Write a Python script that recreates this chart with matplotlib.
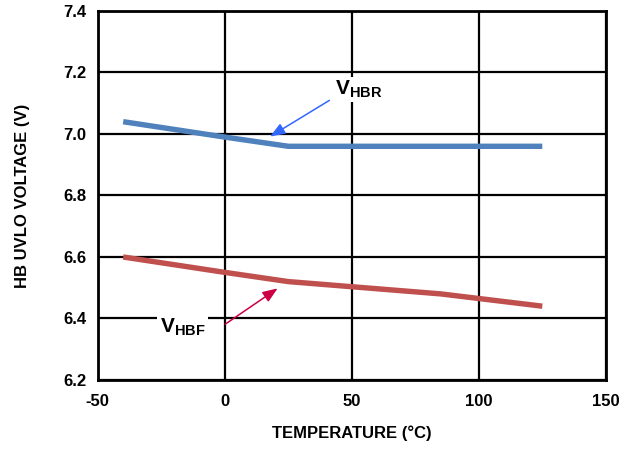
import numpy as np
import matplotlib.pyplot as plt

plt.rcParams['font.family'] = ['Liberation Sans', 'DejaVu Sans']
plt.rcParams['font.weight'] = 'bold'
plt.rcParams['mathtext.fontset'] = 'custom'
plt.rcParams['mathtext.rm'] = 'Liberation Sans:bold'
plt.rcParams['mathtext.bf'] = 'Liberation Sans:bold'
plt.rcParams['mathtext.it'] = 'Liberation Sans:bold'

# data
temp_hbr = [-40, 0, 25, 125]
v_hbr = [7.04, 6.99, 6.96, 6.96]
temp_hbf = [-40, 0, 25, 85, 125]
v_hbf = [6.60, 6.55, 6.52, 6.48, 6.44]
xticks = [-50, 0, 50, 100, 150]
yticks = [6.2, 6.4, 6.6, 6.8, 7.0, 7.2, 7.4]

fig = plt.figure(figsize=(6.35, 4.49), dpi=100)
ax = fig.add_axes([0.154, 0.1537, 0.80, 0.8218])

ax.plot(temp_hbr, v_hbr, color='#4F81BD', lw=3.9, solid_capstyle='butt', zorder=3)
ax.plot(temp_hbf, v_hbf, color='#C0504D', lw=3.9, solid_capstyle='butt', zorder=3)

ax.set_xlim(-50, 150)
ax.set_ylim(6.2, 7.4)
ax.set_xticks(xticks)
ax.set_yticks(yticks)
ax.set_xticklabels(['%d' % t for t in xticks])
ax.set_yticklabels(['%.1f' % t for t in yticks])
ax.grid(True, color='black', lw=1.6)
ax.set_axisbelow(True)
for s in ax.spines.values():
    s.set_linewidth(2)
ax.tick_params(length=0, labelsize=12)
ax.tick_params(axis='x', pad=10)
ax.tick_params(axis='y', pad=8)

ax.set_xlabel('TEMPERATURE (°C)', fontsize=12, fontweight='bold', labelpad=12)
ax.set_ylabel('HB UVLO VOLTAGE (V)', fontsize=12, fontweight='bold', labelpad=24)

ax.text(43.5, 7.145, r'$\mathrm{V_{HBR}}$', fontsize=15, va='center', ha='left',
        bbox=dict(facecolor='white', edgecolor='none', pad=1), zorder=4)
ax.annotate('', xy=(16.9, 6.987), xytext=(42.1, 7.114),
            arrowprops=dict(arrowstyle='-|>,head_length=0.9,head_width=0.35',
                            color='#3366FF', lw=1.1), zorder=5)

ax.text(-25.5, 6.37, r'$\mathrm{V_{HBF}}$', fontsize=15, va='center', ha='left',
        bbox=dict(facecolor='white', edgecolor='none', pad=2), zorder=4)
ax.annotate('', xy=(21.7, 6.503), xytext=(-0.8, 6.376),
            arrowprops=dict(arrowstyle='-|>,head_length=0.9,head_width=0.35',
                            color='#CC0044', lw=1.1), zorder=5)

fig.savefig('out.png', dpi=100)
